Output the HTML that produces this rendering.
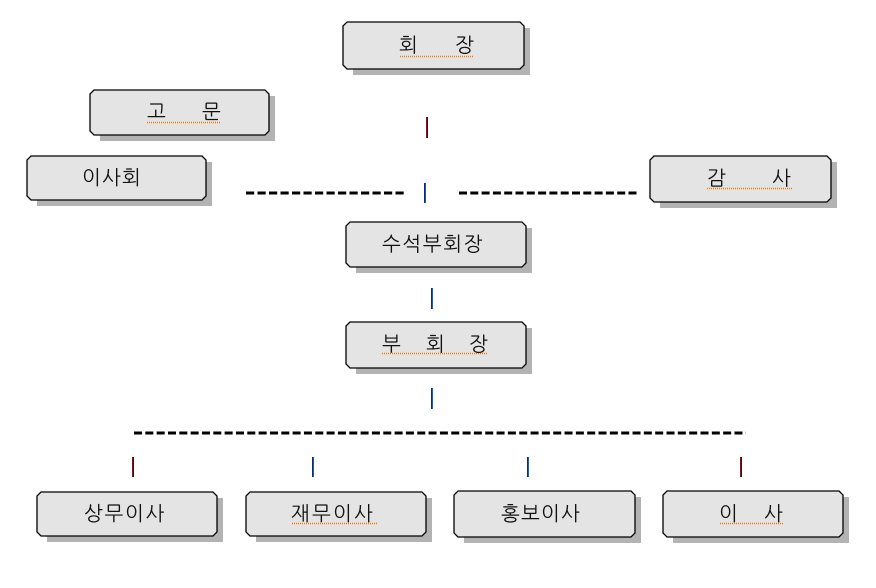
<!DOCTYPE html>
<html><head><meta charset="utf-8"><style>
html,body{margin:0;padding:0;background:#fff;width:876px;height:588px;overflow:hidden}
svg{display:block}
text{font-family:"Liberation Sans","NanumGothic","Noto Sans CJK KR",sans-serif;font-size:20px;fill:#111}
</style></head><body>
<svg width="876" height="588" viewBox="0 0 876 588" xmlns="http://www.w3.org/2000/svg">
<!-- shadows -->
<g fill="#b3b3b3">
<path d="M353,28 L530,28 L530,75 L353,75 Z"/>
<path d="M100,96 L275,96 L275,141 L100,141 Z"/>
<path d="M37,162 L212,162 L212,206 L37,206 Z"/>
<path d="M660,162 L837,162 L837,208 L660,208 Z"/>
<path d="M356,228 L532,228 L532,273 L356,273 Z"/>
<path d="M356,328 L532,328 L532,374 L356,374 Z"/>
<path d="M47,498 L223,498 L223,542 L47,542 Z"/>
<path d="M256,498 L432,498 L432,542 L256,542 Z"/>
<path d="M464,497 L641,497 L641,543 L464,543 Z"/>
<path d="M673,497 L849,497 L849,543 L673,543 Z"/>
</g>
<!-- boxes -->
<g fill="#e4e4e4" stroke="#000" stroke-width="1.3">
<path d="M347,22 L520,22 L524,26 L524,65 L520,69 L347,69 L343,65 L343,26 Z"/>
<path d="M94,90 L265,90 L269,94 L269,131 L265,135 L94,135 L90,131 L90,94 Z"/>
<path d="M31,156 L202,156 L206,160 L206,196 L202,200 L31,200 L27,196 L27,160 Z"/>
<path d="M654,156 L827,156 L831,160 L831,198 L827,202 L654,202 L650,198 L650,160 Z"/>
<path d="M350,222 L522,222 L526,226 L526,263 L522,267 L350,267 L346,263 L346,226 Z"/>
<path d="M350,322 L522,322 L526,326 L526,364 L522,368 L350,368 L346,364 L346,326 Z"/>
<path d="M41,492 L213,492 L217,496 L217,532 L213,536 L41,536 L37,532 L37,496 Z"/>
<path d="M250,492 L422,492 L426,496 L426,532 L422,536 L250,536 L246,532 L246,496 Z"/>
<path d="M458,491 L631,491 L635,495 L635,533 L631,537 L458,537 L454,533 L454,495 Z"/>
<path d="M667,491 L839,491 L843,495 L843,533 L839,537 L667,537 L663,533 L663,495 Z"/>
</g>
<!-- underlines -->
<g stroke="#f07800" stroke-width="1.4" stroke-dasharray="1 1" fill="none">
<line x1="400" y1="56.5" x2="474" y2="56.5"/>
<line x1="147" y1="122.5" x2="220" y2="122.5"/>
<line x1="707" y1="188.5" x2="793" y2="188.5"/>
<line x1="382" y1="353.5" x2="488" y2="353.5"/>
<line x1="292" y1="523.5" x2="378" y2="523.5"/>
<line x1="720" y1="523.5" x2="784" y2="523.5"/>
</g>
<!-- text -->
<text x="399" y="52">회</text><text x="455" y="52">장</text>
<text x="147" y="118.5">고</text><text x="202" y="118.5">문</text>
<text x="82" y="184.5">이</text><text x="102" y="184.5">사</text><text x="122" y="184.5">회</text>
<text x="707" y="185">감</text><text x="772" y="185">사</text>
<text x="382" y="251">수</text><text x="402.4" y="251">석</text><text x="422.8" y="251">부</text><text x="443.2" y="251">회</text><text x="463.6" y="251">장</text>
<text x="382" y="351">부</text><text x="426" y="351">회</text><text x="469" y="351">장</text>
<text x="84" y="520.5">상</text><text x="104.5" y="520.5">무</text><text x="125" y="520.5">이</text><text x="145.5" y="520.5">사</text>
<text x="291" y="520.5">재</text><text x="312" y="520.5">무</text><text x="333" y="520.5">이</text><text x="354" y="520.5">사</text>
<text x="501" y="520.5">홍</text><text x="521" y="520.5">보</text><text x="541" y="520.5">이</text><text x="561" y="520.5">사</text>
<text x="719" y="520.5">이</text><text x="764" y="520.5">사</text>
<!-- dashed lines -->
<g stroke="#000" stroke-width="3" fill="none">
<line x1="246" y1="193" x2="404" y2="193" stroke-dasharray="8.2 3.3"/>
<line x1="459" y1="193" x2="638" y2="193" stroke-dasharray="8 3.3"/>
<line x1="134" y1="433" x2="746" y2="433" stroke-dasharray="8 3.33"/>
</g>
<!-- vertical connectors -->
<g>
<rect x="426" y="117" width="1" height="21" fill="#8b1010"/><rect x="427" y="117" width="1" height="21" fill="#3a1020"/>
<rect x="424" y="183" width="1" height="20" fill="#1a2a50"/><rect x="425" y="183" width="1" height="20" fill="#1060c0"/>
<rect x="431" y="288" width="1" height="21" fill="#1a2a50"/><rect x="432" y="288" width="1" height="21" fill="#1060c0"/>
<rect x="431" y="388" width="1" height="21" fill="#1a2a50"/><rect x="432" y="388" width="1" height="21" fill="#1060c0"/>
<rect x="132" y="457" width="1" height="20" fill="#8b1010"/><rect x="133" y="457" width="1" height="20" fill="#3a1020"/>
<rect x="312" y="457" width="1" height="20" fill="#1a2a50"/><rect x="313" y="457" width="1" height="20" fill="#1060c0"/>
<rect x="527" y="457" width="1" height="20" fill="#1a2a50"/><rect x="528" y="457" width="1" height="20" fill="#1060c0"/>
<rect x="740" y="457" width="1" height="20" fill="#8b1010"/><rect x="741" y="457" width="1" height="20" fill="#3a1020"/>
</g>
</svg>
</body></html>
